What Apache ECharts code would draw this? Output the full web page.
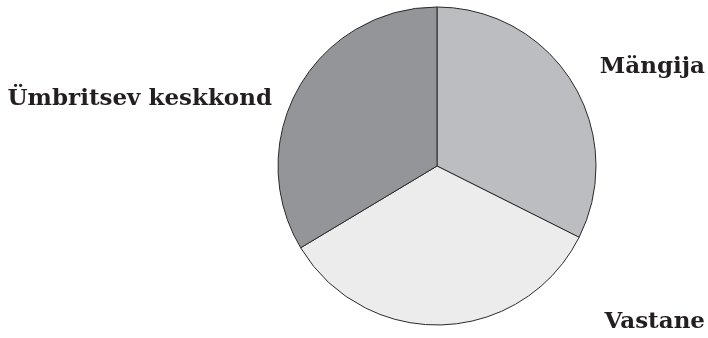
<!DOCTYPE html>
<html><head><meta charset="utf-8">
<script src="https://cdn.jsdelivr.net/npm/echarts@6/dist/echarts.min.js"></script>
<style>html,body{margin:0;padding:0;background:#fff}#c{width:708px;height:338px}</style>
</head><body><div id="c"></div>
<script>
const categories = ["Mängija", "Vastane", "Ümbritsev keskkond"];
const values = [32.4, 34.0, 33.6];
const colors = ["#bcbdc0", "#ececed", "#939598"];
const labelPos = [[705, 67, "right"], [705, 322, "right"], [272, 99, "right"]];

const chart = echarts.init(document.getElementById('c'), null, {renderer: 'canvas'});
chart.setOption({
  animation: false,
  series: [{
    type: 'pie',
    center: [437, 166],
    radius: [0, 159],
    startAngle: 90,
    clockwise: true,
    silent: true,
    itemStyle: {borderColor: '#2a2a2a', borderWidth: 1},
    label: {
      show: true,
      position: 'outside',
      overflow: 'none',
      edgeDistance: 0,
      fontFamily: '"DejaVu Serif", serif',
      fontWeight: 'bold',
      fontSize: 23,
      color: '#231f20'
    },
    labelLine: {show: false},
    labelLayout: function (p) {
      const lp = labelPos[p.dataIndex];
      return {x: lp[0], y: lp[1], align: lp[2], verticalAlign: 'middle'};
    },
    data: categories.map((n, i) => ({name: n, value: values[i], itemStyle: {color: colors[i]}}))
  }]
});
</script></body></html>
